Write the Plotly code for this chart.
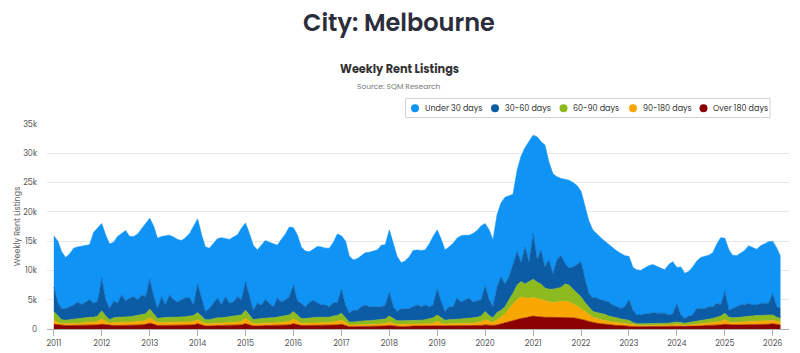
import pandas as pd
import plotly.graph_objects as go

# Monthly sample dates (Jan 2011 .. Mar 2026)
dates = pd.date_range("2011-01-01", periods=183, freq="MS")

under_30 = [
    8700, 10500, 9700, 8700, 9000, 9700, 9400, 9900, 9700, 9400, 12100, 12500,
    9400, 11000, 11000, 10000, 11400, 10500, 12000, 10500, 10300, 11200, 11400, 12500,
    10400, 12000, 12000, 10300, 11800, 10200, 10700, 10700, 10100, 10300, 11000, 13500,
    11100, 11000, 11000, 10300, 10100, 10100, 11500, 9900, 10900, 11100, 10600, 12200,
    10000, 10700, 11100, 9100, 10100, 10100, 10400, 10700, 9000, 10700, 11200, 11900,
    9800, 11200, 9600, 9500, 8700, 8700, 9600, 9900, 9700, 10000, 10300, 11700,
    9100, 10900, 9800, 8600, 8800, 8700, 8900, 9300, 9500, 9700, 10500, 10300,
    10600, 10700, 9400, 7900, 8200, 8800, 9600, 9400, 9600, 9400, 10700, 11700,
    10000, 10700, 10500, 10200, 10800, 10200, 11300, 11000, 10700, 11700, 12000, 12600,
    10600, 11900, 11400, 12300, 12600, 14800, 13800, 12000, 13900, 18100, 17000, 20600,
    16800, 21000, 18500, 20800, 16700, 17100, 14200, 13100, 14400, 15000, 14400, 13500,
    12000, 12500, 12400, 11600, 10900, 10600, 10200, 9800, 9700, 9500, 9400, 8700,
    7400, 7300, 7700, 7600, 7800, 8200, 8200, 8000, 7800, 7400, 8600, 8900,
    6200, 8200, 7700, 7600, 8200, 8100, 8700, 8900, 8800, 9200, 10100, 11500,
    9000, 10300, 9100, 8700, 8900, 9300, 9800, 9800, 9500, 9800, 10200, 10500,
    8900, 10000, 8900,
]

d30_60 = [
    4200, 2300, 1900, 2000, 2200, 2400, 2800, 2400, 2700, 3000, 2400, 2600,
    5500, 2800, 1900, 2900, 2400, 3800, 2700, 3200, 3300, 2700, 3400, 2900,
    5100, 3000, 1700, 3600, 2100, 3800, 3000, 2600, 3000, 3200, 3100, 1800,
    4900, 2800, 1400, 1900, 2600, 3400, 2200, 3500, 2400, 2500, 3300, 2600,
    4900, 3200, 1600, 2700, 2300, 3100, 2500, 1900, 3300, 2500, 2800, 3100,
    4500, 2500, 2600, 2000, 2600, 2900, 2500, 2100, 2100, 1800, 2300, 2200,
    4100, 2100, 1500, 2000, 1900, 2500, 2700, 2400, 2300, 2300, 2200, 2400,
    4100, 2100, 1600, 2000, 2000, 2000, 2300, 2600, 2300, 2500, 2100, 2200,
    4500, 2700, 1500, 2200, 2200, 3600, 2900, 3200, 3500, 2700, 2800, 2800,
    4400, 2700, 1900, 4400, 5700, 3900, 3900, 4900, 5700, 3300, 6300, 3300,
    7800, 3800, 5800, 3600, 5000, 2600, 4900, 5500, 3500, 2900, 3800, 4800,
    6000, 4000, 2300, 2300, 2500, 2300, 2300, 2400, 2000, 1900, 1800, 2200,
    3500, 2100, 1500, 1500, 1700, 1600, 1800, 1700, 1700, 1700, 1400, 1500,
    3100, 1300, 800, 1100, 1200, 2100, 2000, 1900, 2100, 2000, 2400, 1900,
    3800, 1200, 1600, 1900, 2100, 2000, 2200, 1900, 1800, 2100, 2000, 2000,
    3700, 1800, 1700,
]

d60_90 = [
    1500, 1100, 700, 600, 700, 700, 800, 800, 800, 900, 800, 900,
    1400, 900, 600, 800, 900, 900, 900, 900, 1000, 1000, 1100, 1200,
    1500, 1100, 700, 800, 900, 900, 900, 900, 900, 900, 1000, 1000,
    1200, 1000, 700, 700, 800, 900, 900, 900, 900, 1000, 1000, 1100,
    1400, 1000, 700, 800, 800, 900, 900, 900, 900, 1000, 1000, 1100,
    1300, 1000, 800, 800, 900, 900, 900, 900, 900, 900, 1000, 1000,
    1200, 900, 500, 500, 600, 500, 600, 600, 700, 700, 700, 800,
    1000, 800, 600, 600, 600, 700, 700, 700, 700, 700, 800, 900,
    1100, 900, 700, 700, 700, 800, 800, 800, 800, 900, 900, 1000,
    1400, 1000, 800, 1200, 1200, 1200, 1500, 1800, 2500, 2600, 2400, 2900,
    3100, 2800, 2700, 2200, 2200, 2300, 2300, 2400, 2900, 2900, 2500, 2200,
    2000, 1500, 1300, 1000, 1000, 1100, 1000, 900, 900, 800, 700, 700,
    600, 400, 300, 300, 300, 400, 400, 400, 400, 400, 400, 400,
    400, 400, 400, 400, 500, 600, 600, 600, 700, 700, 800, 900,
    1100, 800, 800, 800, 800, 900, 900, 900, 1000, 900, 1000, 1000,
    900, 700, 600,
]

d90_180 = [
    700, 400, 300, 300, 300, 400, 400, 400, 500, 500, 500, 600,
    900, 600, 400, 500, 500, 500, 600, 600, 500, 600, 600, 600,
    900, 600, 500, 500, 500, 500, 500, 500, 500, 600, 500, 600,
    700, 500, 400, 400, 400, 400, 400, 500, 500, 500, 500, 600,
    900, 600, 400, 400, 400, 400, 400, 400, 500, 500, 500, 600,
    800, 600, 400, 400, 400, 500, 500, 500, 500, 500, 500, 600,
    700, 500, 300, 300, 300, 400, 400, 300, 300, 300, 400, 400,
    600, 400, 400, 400, 400, 300, 300, 300, 300, 400, 400, 500,
    700, 500, 300, 400, 400, 400, 400, 500, 500, 500, 500, 600,
    900, 700, 500, 900, 1100, 1500, 2200, 2800, 3300, 3700, 3400, 3200,
    3200, 3100, 3000, 2800, 2600, 2500, 2600, 2700, 2800, 2600, 2400, 2200,
    1800, 1500, 1200, 900, 800, 700, 700, 600, 500, 500, 400, 400,
    400, 300, 200, 200, 200, 200, 200, 200, 200, 200, 200, 300,
    300, 300, 200, 300, 200, 300, 400, 400, 400, 500, 500, 600,
    800, 500, 400, 400, 500, 500, 500, 500, 500, 600, 600, 600,
    600, 500, 500,
]

over_180 = [
    800, 700, 600, 600, 600, 600, 600, 600, 600, 600, 700, 700,
    800, 700, 600, 600, 600, 600, 600, 600, 700, 700, 700, 800,
    1000, 800, 600, 600, 600, 600, 600, 600, 600, 600, 700, 700,
    900, 700, 500, 500, 600, 600, 600, 600, 600, 600, 700, 700,
    900, 700, 500, 500, 600, 600, 600, 600, 600, 600, 700, 700,
    900, 700, 600, 600, 600, 600, 600, 600, 600, 600, 700, 700,
    800, 600, 400, 400, 400, 400, 400, 500, 500, 500, 500, 500,
    600, 500, 400, 400, 400, 500, 500, 500, 500, 500, 500, 500,
    600, 500, 500, 500, 500, 500, 500, 500, 500, 500, 600, 600,
    700, 600, 600, 700, 900, 1100, 1300, 1500, 1700, 1800, 1900, 2000,
    2200, 2100, 2000, 2000, 2000, 2000, 2000, 2000, 2000, 2000, 1900, 1800,
    1700, 1500, 1300, 1100, 1000, 900, 800, 700, 700, 600, 600, 500,
    500, 400, 400, 400, 400, 400, 400, 400, 400, 400, 400, 400,
    500, 400, 400, 400, 500, 500, 500, 600, 600, 600, 700, 700,
    800, 700, 700, 700, 700, 700, 800, 800, 800, 800, 800, 800,
    900, 800, 700,
]

series_names = ["Under 30 days", "30-60 days", "60-90 days", "90-180 days", "Over 180 days"]
series_values = [under_30, d30_60, d60_90, d90_180, over_180]
series_colors = ["#0f93f5", "#0b5ba5", "#8cba1f", "#f8a602", "#8b0000"]

year_ticks = [f"{y}-01-01" for y in range(2011, 2027)]
year_labels = [str(y) for y in range(2011, 2027)]

FONT = "Poppins, Inter, Lato, sans-serif"

# plot-area geometry (px) used for converting layout decorations to paper coords
L, R, T, B = 47, 11, 124, 24
W, H = 800, 353
PW, PH = W - L - R, H - T - B


def px_x(x):
    return (x - L) / PW


def px_y(y):
    return 1 + (T - y) / PH


fig = go.Figure()

# stacked areas: bottom first
for name, vals, col in reversed(list(zip(series_names, series_values, series_colors))):
    fig.add_trace(go.Scatter(
        x=dates, y=vals, name=name, mode="lines",
        line=dict(width=0.6, color=col), fillcolor=col,
        stackgroup="one", showlegend=False,
    ))

# custom compact legend (box + circle symbols + labels)
legend_sym_x = [415, 495, 563.5, 633, 703.5]
legend_cy = 108.3
shapes = [dict(type="rect", xref="paper", yref="paper",
               x0=px_x(405.5), x1=px_x(770), y0=px_y(117.5), y1=px_y(98.5),
               line=dict(color="#d4d4d4", width=1), fillcolor="white", layer="above")]
annotations = []
for sx, name, col in zip(legend_sym_x, series_names, series_colors):
    shapes.append(dict(type="circle", xref="paper", yref="paper",
                       x0=px_x(sx - 4), x1=px_x(sx + 4),
                       y0=px_y(legend_cy + 4), y1=px_y(legend_cy - 4),
                       line=dict(width=0), fillcolor=col, layer="above"))
    annotations.append(dict(text=name, xref="paper", yref="paper",
                            x=px_x(sx + 7.5), y=px_y(legend_cy), xanchor="left", yanchor="middle",
                            showarrow=False, font=dict(size=8, color="#333333", family=FONT)))

annotations += [
    dict(text="City: Melbourne", xref="paper", yref="paper",
         x=px_x(399), y=px_y(22), xanchor="center", yanchor="middle",
         showarrow=False, font=dict(size=24, color="#2b2d3a", family=FONT, weight=600)),
    dict(text="Weekly Rent Listings", xref="paper", yref="paper",
         x=px_x(399), y=px_y(69), xanchor="center", yanchor="middle",
         showarrow=False, font=dict(size=11.3, color="#333333", family=FONT, weight=700)),
    dict(text="Source: SQM Research", xref="paper", yref="paper",
         x=px_x(399), y=px_y(86), xanchor="center", yanchor="middle",
         showarrow=False, font=dict(size=7.5, color="#777777", family=FONT)),
]

fig.update_layout(
    width=W, height=H,
    margin=dict(l=L, r=R, t=T, b=B, autoexpand=False),
    paper_bgcolor="white", plot_bgcolor="white",
    font=dict(family=FONT, color="#666666", size=8),
    showlegend=False,
    xaxis=dict(
        type="date",
        range=["2010-11-10", "2026-05-05"],
        tickvals=year_ticks, ticktext=year_labels,
        showgrid=False, showline=True, linecolor="#b0b0b0", linewidth=1,
        ticks="outside", ticklen=6, tickcolor="#b0b0b0",
        tickfont=dict(size=8, color="#555555"),
        zeroline=False, automargin=False,
    ),
    yaxis=dict(
        range=[0, 35000],
        tickvals=[0, 5000, 10000, 15000, 20000, 25000, 30000, 35000],
        ticktext=["0", "5k", "10k", "15k", "20k", "25k", "30k", "35k"],
        showgrid=True, gridcolor="#e8e8e8", gridwidth=1,
        zeroline=False, showline=False,
        tickfont=dict(size=8, color="#555555"),
        ticks="", ticklabelstandoff=9, automargin=False,
        title=dict(text="Weekly Rent Listings", font=dict(size=8, color="#666666"), standoff=1),
    ),
    shapes=shapes,
    annotations=annotations,
)

fig.write_html("out.html")
